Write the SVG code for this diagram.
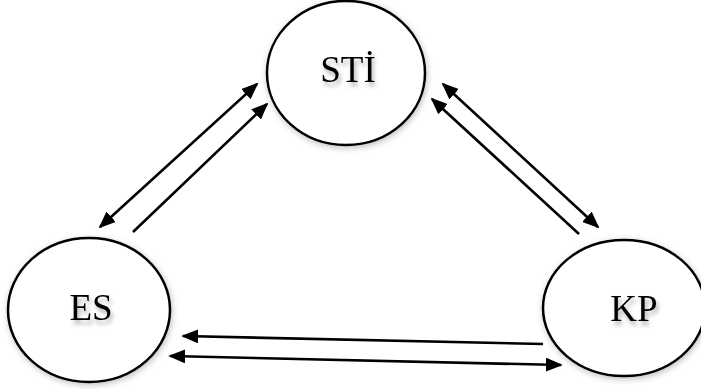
<svg xmlns="http://www.w3.org/2000/svg" width="701" height="389" viewBox="0 0 701 389">
<style>
.node ellipse{fill:#fff;stroke:#000;stroke-width:2.5;filter:url(#glow)}
.node text{font-family:"Liberation Serif","Times New Roman",serif;font-size:37px;fill:#000;text-anchor:middle;filter:url(#tshadow)}
.conn line{stroke:#000;stroke-width:2.6}
</style>
<defs>
<filter id="glow" x="-20%" y="-20%" width="140%" height="140%">
<feDropShadow dx="1" dy="2" stdDeviation="3" flood-color="#000" flood-opacity="0.25"/>
</filter>
<filter id="tshadow" x="-20%" y="-30%" width="140%" height="160%">
<feDropShadow dx="2" dy="4" stdDeviation="2" flood-color="#000" flood-opacity="0.3"/>
</filter>
<marker id="ah" viewBox="0 0 6.5 5.4" refX="5.8" refY="2.7" markerWidth="6.5" markerHeight="5.4" markerUnits="strokeWidth" orient="auto-start-reverse">
<path d="M0,0 L6.5,2.7 L0,5.4 Z" fill="#000"/>
</marker>
</defs>
<rect width="701" height="389" fill="#fff"/>
<g id="STI" class="node">
<ellipse cx="346" cy="73" rx="79" ry="72"/>
<text x="348" y="82">STİ</text>
</g>
<g id="ES" class="node">
<ellipse cx="89" cy="310" rx="81" ry="72"/>
<text x="91" y="320">ES</text>
</g>
<g id="KP" class="node">
<ellipse cx="624" cy="308" rx="81" ry="68"/>
<text x="634" y="321">KP</text>
</g>
<g id="connectors" class="conn">
<line x1="100" y1="227" x2="257" y2="84" marker-start="url(#ah)" marker-end="url(#ah)"/>
<line x1="133" y1="232" x2="267" y2="104" marker-end="url(#ah)"/>
<line x1="443" y1="84" x2="598" y2="227" marker-start="url(#ah)" marker-end="url(#ah)"/>
<line x1="579" y1="234" x2="432" y2="99" marker-end="url(#ah)"/>
<line x1="543" y1="344" x2="183" y2="336" marker-end="url(#ah)"/>
<line x1="170" y1="356" x2="561" y2="365" marker-start="url(#ah)" marker-end="url(#ah)"/>
</g>
</svg>
